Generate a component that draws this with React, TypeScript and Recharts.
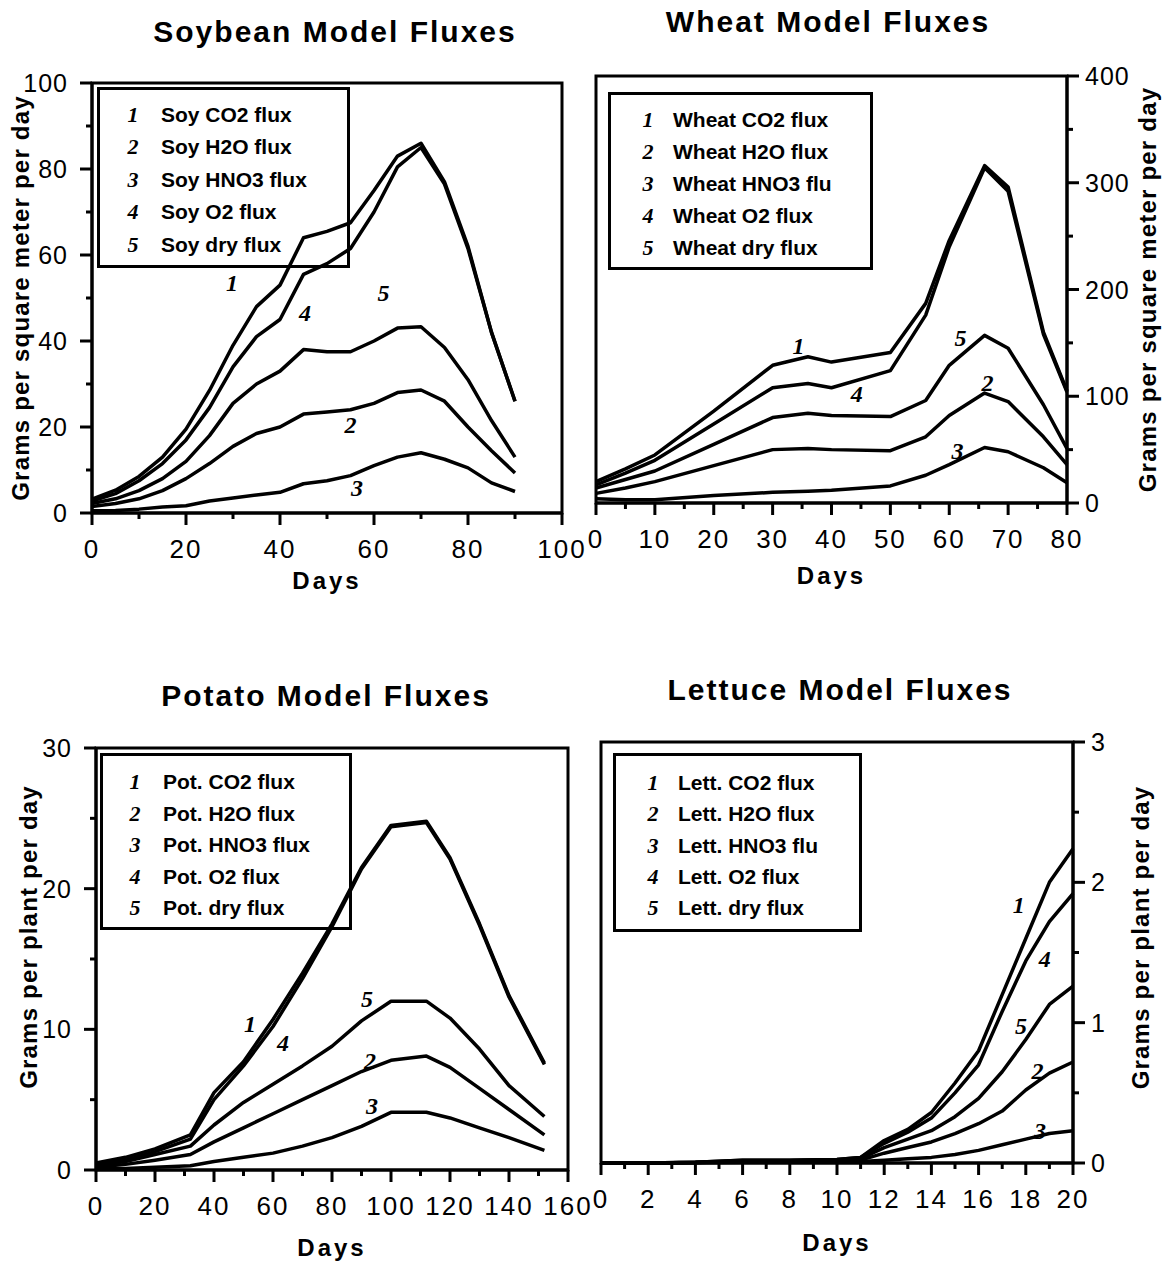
import React from 'react';
import { LineChart, Line, XAxis, YAxis, ReferenceArea, ReferenceDot, Legend } from 'recharts';

const FONT = '"Liberation Sans", Arial, Helvetica, sans-serif';
const HAND = '"Liberation Serif", "DejaVu Serif", serif';
const TAGS = ['1', '2', '3', '4', '5'];

// Soybean (g per m2 per day)
const soyDays = [0, 5, 10, 15, 20, 25, 30, 35, 40, 45, 50, 55, 60, 65, 70, 75, 80, 85, 90];
const soyCO2 = [3.2, 5.3, 8.5, 13, 19.5, 28.5, 39, 48, 53, 64, 65.5, 67.5, 75, 83, 86, 77, 62, 42, 26];
const soyH2O = [1.5, 2.2, 3.3, 5.2, 8, 11.5, 15.5, 18.5, 20, 23, 23.5, 24, 25.5, 28, 28.6, 26, 20, 14.5, 9.3];
const soyHNO3 = [0.5, 0.6, 0.9, 1.4, 1.7, 2.8, 3.5, 4.2, 4.8, 6.8, 7.5, 8.7, 11, 13, 14, 12.5, 10.5, 7, 5];
const soyO2 = [2.8, 4.5, 7.5, 11.5, 17, 24.5, 34, 41, 45, 55.5, 58, 61.5, 70, 80.5, 85, 76.5, 61.5, 42, 26];
const soyDry = [2.2, 3.3, 5.2, 8, 12, 18, 25.5, 30, 33, 38, 37.5, 37.5, 40, 43, 43.3, 38.5, 31, 21.5, 13];
const soyNames = ['Soy CO2 flux', 'Soy H2O flux', 'Soy HNO3 flux', 'Soy O2 flux', 'Soy dry flux'];
const soyTagDays = [29.8, 55, 56.4, 45.3, 62];
const soyTagVals = [53.5, 20.5, 6, 46.7, 51.4];

// Wheat (g per m2 per day)
const wheatDays = [0, 5, 10, 20, 30, 36, 40, 50, 56, 60, 66, 70, 76, 80];
const wheatCO2 = [20, 32, 45, 86, 129, 137, 132, 141, 187, 246, 316, 296, 160, 105];
const wheatH2O = [9, 14, 20, 35, 50, 51, 50, 49, 62, 82, 103, 95, 62, 36];
const wheatHNO3 = [4, 3, 3, 7, 10, 11, 12, 16, 26, 36, 52, 48, 33, 19];
const wheatO2 = [17, 28, 40, 74, 108, 112, 108, 124, 176, 240, 314, 292, 158, 104];
const wheatDry = [14, 22, 30, 55, 80, 84, 82, 81, 96, 129, 157, 145, 92, 51];
const wheatNames = ['Wheat CO2 flux', 'Wheat H2O flux', 'Wheat HNO3 flu', 'Wheat O2 flux', 'Wheat dry flux'];
const wheatTagDays = [34.4, 66.5, 61.4, 44.3, 61.9];
const wheatTagVals = [148, 113, 49, 103, 155];

// Potato (g per plant per day)
const potDays = [0, 10, 20, 32, 40, 50, 60, 70, 80, 90, 100, 112, 120, 130, 140, 152];
const potCO2 = [0.5, 0.9, 1.5, 2.5, 5.5, 7.7, 10.7, 14, 17.5, 21.5, 24.5, 24.8, 22.2, 17.5, 12.4, 7.6];
const potH2O = [0.2, 0.4, 0.7, 1.1, 2, 3, 4, 5, 6, 7, 7.8, 8.1, 7.3, 5.8, 4.3, 2.5];
const potHNO3 = [0.1, 0.1, 0.2, 0.3, 0.6, 0.9, 1.2, 1.7, 2.3, 3.1, 4.1, 4.1, 3.7, 3, 2.3, 1.4];
const potO2 = [0.4, 0.7, 1.3, 2.2, 5, 7.4, 10.2, 13.6, 17.3, 21.4, 24.4, 24.7, 22.1, 17.4, 12.3, 7.5];
const potDry = [0.3, 0.6, 1.1, 1.7, 3.2, 4.8, 6.1, 7.4, 8.8, 10.6, 12, 12, 10.8, 8.6, 6, 3.8];
const potNames = ['Pot. CO2 flux', 'Pot. H2O flux', 'Pot. HNO3 flux', 'Pot. O2 flux', 'Pot. dry flux'];
const potTagDays = [52.2, 92.9, 93.6, 63.4, 91.9];
const potTagVals = [10.4, 7.8, 4.6, 9.1, 12.2];

// Lettuce (g per plant per day)
const lettDays = [0, 2, 4, 6, 8, 10, 11, 12, 13, 14, 15, 16, 17, 18, 19, 20];
const lettCO2 = [0, 0, 0.005, 0.02, 0.02, 0.025, 0.04, 0.16, 0.24, 0.36, 0.57, 0.8, 1.2, 1.6, 2.0, 2.24];
const lettH2O = [0, 0, 0.003, 0.01, 0.012, 0.015, 0.02, 0.07, 0.11, 0.15, 0.21, 0.28, 0.37, 0.52, 0.64, 0.72];
const lettHNO3 = [0, 0, 0.001, 0.005, 0.006, 0.008, 0.01, 0.02, 0.03, 0.04, 0.06, 0.09, 0.13, 0.17, 0.21, 0.23];
const lettO2 = [0, 0, 0.005, 0.02, 0.02, 0.025, 0.04, 0.14, 0.22, 0.32, 0.5, 0.7, 1.08, 1.44, 1.72, 1.92];
const lettDry = [0, 0, 0.004, 0.015, 0.016, 0.02, 0.03, 0.11, 0.17, 0.23, 0.33, 0.46, 0.65, 0.88, 1.13, 1.26];
const lettNames = ['Lett. CO2 flux', 'Lett. H2O flux', 'Lett. HNO3 flu', 'Lett. O2 flux', 'Lett. dry flux'];
const lettTagDays = [17.7, 18.5, 18.6, 18.8, 17.8];
const lettTagVals = [1.84, 0.66, 0.23, 1.46, 0.98];

const KEYS = ['co2', 'h2o', 'hno3', 'o2', 'dry'];

const buildRows = (days: number[], series: number[][]) =>
  days.map((d, i) => {
    const row: any = { day: d };
    KEYS.forEach((k, j) => (row[k] = series[j][i]));
    return row;
  });

const range = (a: number, b: number, step: number) => {
  const out: number[] = [];
  for (let v = a; v <= b + 1e-9; v += step) out.push(Math.round(v * 1000) / 1000);
  return out;
};

const makeTick = (side: 'bottom' | 'left' | 'right', major: number[]) => (props: any) => {
  const { x, y, payload } = props;
  const v = payload.value;
  const isMajor = major.some((m) => Math.abs(m - v) < 1e-6);
  const len = isMajor ? 12 : 6;
  if (side === 'bottom') {
    return (
      <g>
        <line x1={x} y1={y} x2={x} y2={y + len} stroke="#000" strokeWidth={3} />
        {isMajor && (
          <text x={x} y={y + 36} textAnchor="middle" dominantBaseline="central"
            style={{ fontFamily: FONT, fontSize: 26, letterSpacing: 2, fill: '#000' }}>{v}</text>
        )}
      </g>
    );
  }
  const dir = side === 'left' ? -1 : 1;
  return (
    <g>
      <line x1={x} y1={y} x2={x + dir * len} y2={y} stroke="#000" strokeWidth={3} />
      {isMajor && (
        <text x={x + dir * (side === 'left' ? 24 : 18)} y={y} textAnchor={side === 'left' ? 'end' : 'start'}
          dominantBaseline="central" style={{ fontFamily: FONT, fontSize: 25, letterSpacing: 1, fill: '#000' }}>{v}</text>
      )}
    </g>
  );
};

const LegendBox = ({ payload, first, step, tagX, textX }: any) => (
  <div style={{ position: 'relative', width: '100%', height: '100%', border: '3px solid #000', boxSizing: 'border-box', fontFamily: FONT }}>
    {(payload || []).map((p: any, i: number) => (
      <div key={i} style={{ position: 'absolute', left: 0, top: first - 3 - 15 + i * step, height: 30, width: '100%' }}>
        <span style={{ position: 'absolute', left: tagX - 9, width: 18, textAlign: 'center', lineHeight: '30px',
          fontFamily: HAND, fontStyle: 'italic', fontWeight: 700, fontSize: 22 }}>{TAGS[i]}</span>
        <span style={{ position: 'absolute', left: textX, lineHeight: '30px', fontWeight: 700, fontSize: 21, whiteSpace: 'nowrap' }}>
          {p.value}
        </span>
      </div>
    ))}
  </div>
);

interface PanelProps {
  left: number; top: number; width: number; height: number;
  margin: { top: number; left: number; right: number; bottom: number };
  rows: any[]; names: string[];
  xDomain: [number, number]; xTicks: number[]; xMajor: number[];
  yDomain: [number, number]; yTicks: number[]; yMajor: number[];
  ySide: 'left' | 'right'; yWidth: number; yTitle: string; yTitleOffset: number; yTitleDy: number;
  daysOffset: number;
  legend: { x: number; y: number; w: number; h: number; first: number; step: number; tagX: number; textX: number };
  tagDays: number[]; tagVals: number[];
}

const Panel: React.FC<PanelProps> = (p) => (
  <div style={{ position: 'absolute', left: p.left, top: p.top }}>
    <LineChart width={p.width} height={p.height} data={p.rows} margin={p.margin}>
      <XAxis dataKey="day" type="number" domain={p.xDomain} ticks={p.xTicks} interval={0} height={40}
        tickSize={0} tickMargin={0} tickLine={false} axisLine={{ stroke: '#000', strokeWidth: 3 }}
        tick={makeTick('bottom', p.xMajor)}
        label={{ value: 'Days', position: 'bottom', offset: p.daysOffset,
          style: { fontFamily: FONT, fontWeight: 700, fontSize: 24, letterSpacing: 3, fill: '#000' } }} />
      <YAxis type="number" orientation={p.ySide} domain={p.yDomain} ticks={p.yTicks} interval={0} width={p.yWidth}
        tickSize={0} tickMargin={0} tickLine={false} axisLine={{ stroke: '#000', strokeWidth: 3 }}
        tick={makeTick(p.ySide, p.yMajor)}
        label={{ value: p.yTitle, angle: -90, dy: p.yTitleDy,
          position: p.ySide === 'left' ? 'insideLeft' : 'insideRight', offset: p.yTitleOffset,
          style: { textAnchor: 'middle', fontFamily: FONT, fontWeight: 700, fontSize: 24, letterSpacing: 1.2, fill: '#000' } }} />
      <ReferenceArea x1={p.xDomain[0]} x2={p.xDomain[1]} y1={p.yDomain[0]} y2={p.yDomain[1]}
        fill="none" stroke="#000" strokeWidth={3} ifOverflow="visible" />
      {KEYS.map((k, i) => (
        <Line key={k} type="linear" dataKey={k} name={p.names[i]} stroke="#000" strokeWidth={3.5}
          strokeLinejoin="round" dot={false} isAnimationActive={false} />
      ))}
      {p.tagDays.map((d, i) => (
        <ReferenceDot key={i} x={d} y={p.tagVals[i]} r={0} fill="none" stroke="none"
          label={{ value: TAGS[i], position: 'center',
            style: { fontFamily: HAND, fontStyle: 'italic', fontWeight: 700, fontSize: 24, fill: '#000' } }} />
      ))}
      <Legend layout="vertical" verticalAlign="middle" align="center"
        wrapperStyle={{ left: p.legend.x, top: p.legend.y, width: p.legend.w, height: p.legend.h }}
        content={(lp: any) => <LegendBox payload={lp.payload} first={p.legend.first} step={p.legend.step}
          tagX={p.legend.tagX} textX={p.legend.textX} />} />
    </LineChart>
  </div>
);

const Title = ({ text, x, y }: { text: string; x: number; y: number }) => (
  <div style={{ position: 'absolute', left: x - 250, top: y - 18, width: 500, textAlign: 'center',
    fontFamily: FONT, fontWeight: 700, fontSize: 30, letterSpacing: 2, lineHeight: '36px', color: '#000' }}>{text}</div>
);

export default function App() {
  return (
    <div style={{ position: 'relative', width: 1165, height: 1264, background: '#fff', overflow: 'hidden' }}>
      <style>{'body{margin:0;background:#fff}'}</style>
      <Title text="Soybean Model Fluxes" x={335} y={32} />
      <Title text="Wheat Model Fluxes" x={828} y={22} />
      <Title text="Potato Model Fluxes" x={326} y={696} />
      <Title text="Lettuce Model Fluxes" x={840} y={690} />

      <Panel left={0} top={0} width={605} height={610} margin={{ top: 83, left: 12, right: 43, bottom: 57 }}
        rows={buildRows(soyDays, [soyCO2, soyH2O, soyHNO3, soyO2, soyDry])} names={soyNames}
        xDomain={[0, 100]} xTicks={range(0, 100, 10)} xMajor={range(0, 100, 20)}
        yDomain={[0, 100]} yTicks={range(0, 100, 10)} yMajor={range(0, 100, 20)}
        ySide="left" yWidth={80} yTitle="Grams per square meter per day" yTitleOffset={8} yTitleDy={0}
        daysOffset={19}
        legend={{ x: 97, y: 87, w: 253, h: 181, first: 28, step: 32.4, tagX: 33, textX: 61 }}
        tagDays={soyTagDays} tagVals={soyTagVals} />

      <Panel left={585} top={0} width={580} height={610} margin={{ top: 76, left: 11, right: 8, bottom: 67 }}
        rows={buildRows(wheatDays, [wheatCO2, wheatH2O, wheatHNO3, wheatO2, wheatDry])} names={wheatNames}
        xDomain={[0, 80]} xTicks={range(0, 80, 5)} xMajor={range(0, 80, 10)}
        yDomain={[0, 400]} yTicks={range(0, 400, 50)} yMajor={range(0, 400, 100)}
        ySide="right" yWidth={90} yTitle="Grams per square meter per day" yTitleOffset={10} yTitleDy={0}
        daysOffset={24}
        legend={{ x: 23, y: 92, w: 265, h: 178, first: 28, step: 32, tagX: 37, textX: 62 }}
        tagDays={wheatTagDays} tagVals={wheatTagVals} />

      <Panel left={0} top={640} width={605} height={624} margin={{ top: 108, left: 12, right: 37, bottom: 54 }}
        rows={buildRows(potDays, [potCO2, potH2O, potHNO3, potO2, potDry])} names={potNames}
        xDomain={[0, 160]} xTicks={range(0, 160, 10)} xMajor={range(0, 160, 20)}
        yDomain={[0, 30]} yTicks={range(0, 30, 5)} yMajor={range(0, 30, 10)}
        ySide="left" yWidth={84} yTitle="Grams per plant per day" yTitleOffset={16} yTitleDy={-22}
        daysOffset={29}
        legend={{ x: 100, y: 113, w: 252, h: 177, first: 29, step: 31.5, tagX: 32, textX: 60 }}
        tagDays={potTagDays} tagVals={potTagVals} />

      <Panel left={585} top={640} width={580} height={624} margin={{ top: 102, left: 16, right: 8, bottom: 61 }}
        rows={buildRows(lettDays, [lettCO2, lettH2O, lettHNO3, lettO2, lettDry])} names={lettNames}
        xDomain={[0, 20]} xTicks={range(0, 20, 1)} xMajor={range(0, 20, 2)}
        yDomain={[0, 3]} yTicks={range(0, 3, 0.5)} yMajor={range(0, 3, 1)}
        ySide="right" yWidth={84} yTitle="Grams per plant per day" yTitleOffset={17} yTitleDy={-15}
        daysOffset={31}
        legend={{ x: 28, y: 113, w: 249, h: 179, first: 30, step: 31.3, tagX: 37, textX: 62 }}
        tagDays={lettTagDays} tagVals={lettTagVals} />
    </div>
  );
}
